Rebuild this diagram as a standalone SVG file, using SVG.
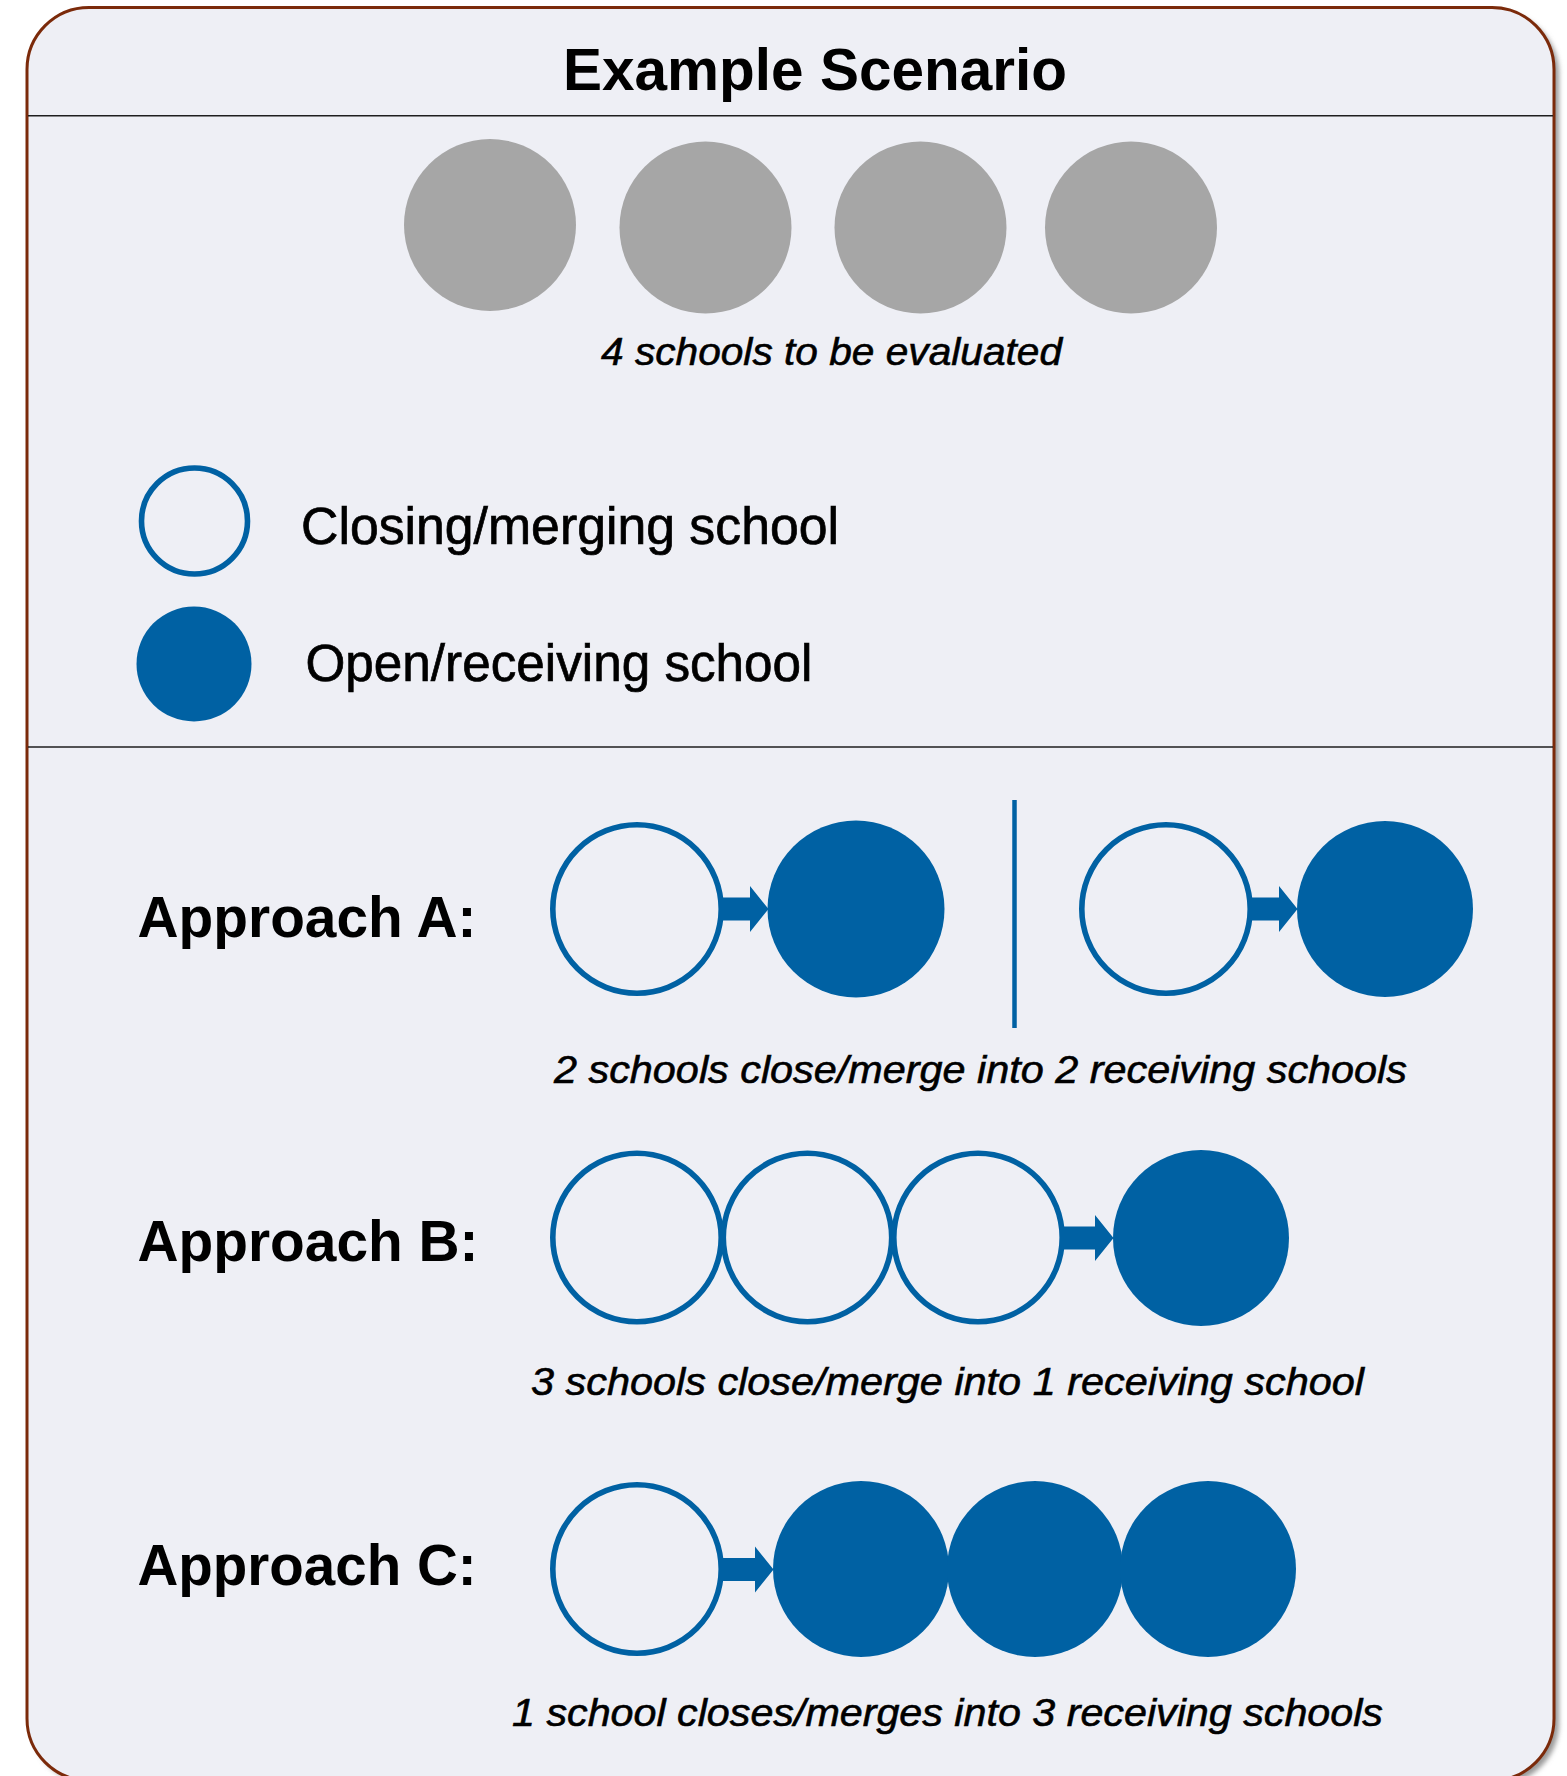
<svg xmlns="http://www.w3.org/2000/svg" width="1567" height="1776" viewBox="0 0 1567 1776">
<defs>
<filter id="sh" x="-5%" y="-5%" width="110%" height="110%"><feGaussianBlur stdDeviation="2.5"/></filter>
<style>
.bg{fill:#eeeff5;stroke:#7b2a0a;stroke-width:3}
.rule{stroke:#1e1e1e;stroke-width:1.6}
.gray{fill:#a6a6a6}
.open{fill:#eeeff5;stroke:#0061a3;stroke-width:5.6}
.full{fill:#0061a3}
.arr{fill:#0061a3}
.title{font-family:"Liberation Sans",Arial,sans-serif;font-weight:bold;font-size:59px;fill:#000}
.cap{font-family:"Liberation Sans",Arial,sans-serif;font-style:italic;font-size:39px;fill:#000;stroke:#000;stroke-width:0.6}
.leg{font-family:"Liberation Sans",Arial,sans-serif;font-size:51px;fill:#000;stroke:#000;stroke-width:0.7}
.lab{font-family:"Liberation Sans",Arial,sans-serif;font-weight:bold;font-size:57px;fill:#000}
</style>
</defs>
<g id="frame">
<rect x="32" y="12" width="1527" height="1773" rx="62" fill="#9a9a9a" filter="url(#sh)"/>
<rect class="bg" x="27" y="7.5" width="1527" height="1773" rx="62"/>
<line class="rule" x1="28" y1="115.7" x2="1553" y2="115.7"/>
<line class="rule" x1="28" y1="747" x2="1553" y2="747"/>
</g>
<g id="title"><text class="title" x="563" y="90" textLength="504" lengthAdjust="spacingAndGlyphs">Example Scenario</text></g>
<g id="schools">
<circle class="gray" cx="490" cy="225" r="86"/>
<circle class="gray" cx="705.5" cy="227.5" r="86"/>
<circle class="gray" cx="920.5" cy="227.5" r="86"/>
<circle class="gray" cx="1131" cy="227.5" r="86"/>
<text class="cap" x="601" y="365" textLength="461" lengthAdjust="spacingAndGlyphs">4 schools to be evaluated</text>
</g>
<g id="legend-closing">
<circle class="open" cx="194.5" cy="521" r="53"/>
<text class="leg" x="301" y="544" textLength="538" lengthAdjust="spacingAndGlyphs">Closing/merging school</text>
</g>
<g id="legend-open">
<circle class="full" cx="194" cy="664" r="57.5"/>
<text class="leg" x="305.5" y="681" textLength="507" lengthAdjust="spacingAndGlyphs">Open/receiving school</text>
</g>
<g id="approach-a">
<text class="lab" x="137.5" y="937" textLength="339" lengthAdjust="spacingAndGlyphs">Approach A:</text>
<circle class="open" cx="637" cy="909" r="84.2"/>
<circle class="full" cx="856" cy="909" r="88.5"/>
<line x1="1014.5" y1="800" x2="1014.5" y2="1028" stroke="#0061a3" stroke-width="4.5"/>
<circle class="open" cx="1166" cy="909" r="84.2"/>
<circle class="full" cx="1385" cy="909" r="88"/>
<text class="cap" x="554" y="1083" textLength="853" lengthAdjust="spacingAndGlyphs">2 schools close/merge into 2 receiving schools</text>
</g>
<g id="approach-b">
<text class="lab" x="137.5" y="1261" textLength="341" lengthAdjust="spacingAndGlyphs">Approach B:</text>
<circle class="open" cx="637" cy="1237.5" r="84.2"/>
<circle class="open" cx="807.5" cy="1237.5" r="84.2"/>
<circle class="open" cx="978" cy="1237.5" r="84.2"/>
<circle class="full" cx="1201" cy="1238" r="88"/>
<text class="cap" x="531" y="1395" textLength="833" lengthAdjust="spacingAndGlyphs">3 schools close/merge into 1 receiving school</text>
</g>
<g id="approach-c">
<text class="lab" x="137.5" y="1585" textLength="339" lengthAdjust="spacingAndGlyphs">Approach C:</text>
<circle class="open" cx="637" cy="1569" r="84.2"/>
<circle class="full" cx="861" cy="1569" r="88"/>
<circle class="full" cx="1035" cy="1569" r="88"/>
<circle class="full" cx="1208" cy="1569" r="88"/>
<text class="cap" x="512" y="1726" textLength="871" lengthAdjust="spacingAndGlyphs">1 school closes/merges into 3 receiving schools</text>
</g>
<g id="connectors">
<path class="arr" d="M722 897.5H750V886L768.5 909L750 932V920.5H722Z"/>
<path class="arr" d="M1251 897.5H1279V886L1297.5 909L1279 932V920.5H1251Z"/>
<path class="arr" d="M1064 1226.5H1095V1215L1113.5 1238L1095 1261V1249.5H1064Z"/>
<path class="arr" d="M722 1558H755V1546.5L773.5 1569.5L755 1592.5V1581H722Z"/>
</g>
</svg>
